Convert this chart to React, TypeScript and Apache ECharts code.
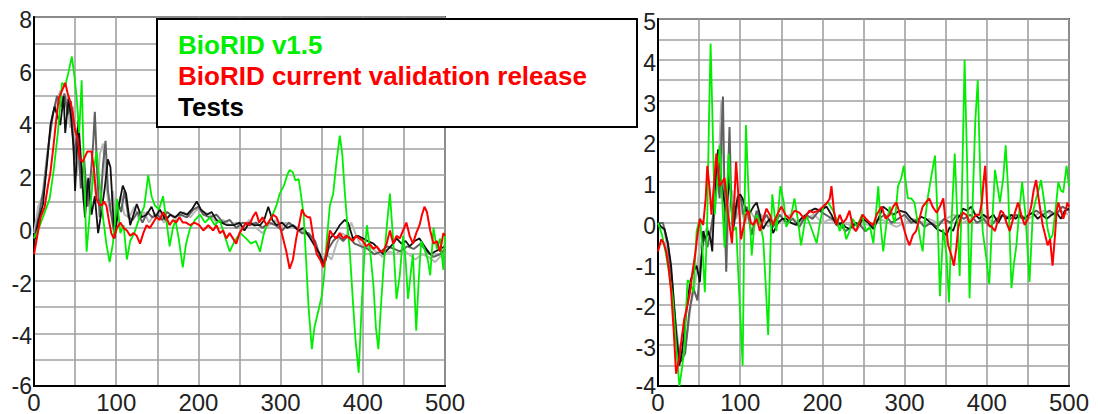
import React, { useEffect, useRef } from "react";
import * as echarts from "echarts";

const legendLabels = ["BioRID v1.5", "BioRID current validation release", "Tests"];
const leftYRange = [-6, 8];
const rightYRange = [-4, 5];
const xRange = [0, 500];

const leftGreen = [[0,-0.4],[6,0.0],[12,0.5],[19,1.1],[24,2.2],[29,3.6],[34,5.5],[38,5.4],[42,5.9],[46,6.5],[49,5.8],[52,4.9],[55,3.6],[58,5.6],[61,2.0],[64,-0.9],[68,0.6],[72,2.0],[76,2.9],[80,1.6],[84,0.4],[88,-0.6],[92,-1.3],[96,-0.6],[101,1.1],[105,-0.2],[109,0.1],[113,-1.2],[117,-0.5],[122,-0.2],[129,0.45],[134,0.8],[139,2.0],[143,1.2],[147,0.85],[152,0.7],[157,1.2],[161,0.3],[165,-0.7],[169,0.0],[172,0.3],[176,-0.4],[181,-1.5],[185,-0.6],[190,0.0],[196,0.3],[202,0.5],[208,0.2],[214,0.4],[220,0.1],[226,0.3],[232,-0.3],[238,-0.9],[244,-0.5],[251,-0.2],[258,-0.4],[264,-0.6],[270,-0.5],[275,-0.9],[279,-0.3],[283,0.1],[289,0.4],[295,0.85],[299,1.3],[304,1.6],[308,2.0],[311,2.2],[315,2.1],[318,1.8],[322,1.85],[325,1.2],[328,0.5],[331,-1.2],[334,-3.0],[338,-4.6],[341,-3.8],[344,-3.4],[347,-3.0],[350,-2.6],[353,-1.8],[356,-0.5],[360,0.85],[364,1.3],[368,2.5],[372,3.5],[375,2.8],[378,1.4],[381,0.2],[384,-0.8],[388,-2.8],[391,-4.2],[395,-5.5],[399,-2.7],[402,-1.0],[405,0.1],[409,-0.9],[413,-2.2],[416,-3.8],[419,-4.6],[422,-3.0],[425,-1.6],[429,0.0],[433,1.3],[437,-0.5],[441,-2.7],[445,-1.8],[449,-0.3],[452,-1.2],[455,-2.7],[458,-1.8],[461,-1.0],[465,-3.9],[468,-2.0],[471,-0.5],[475,-0.8],[479,-1.2],[482,-1.8],[486,0.0],[490,-0.8],[494,-0.4],[498,-1.6],[500,-0.2]];

const leftRed = [[0,-1.0],[4,-0.3],[8,0.4],[13,0.8],[17,1.6],[20,2.1],[24,3.2],[27,4.1],[30,4.9],[34,5.2],[38,5.5],[41,5.1],[44,4.8],[47,4.4],[50,3.7],[53,3.4],[56,2.6],[59,2.5],[62,2.7],[65,2.9],[70,2.9],[73,2.2],[76,1.1],[79,0.9],[82,0.85],[85,1.0],[88,0.85],[91,0.3],[94,-0.2],[97,-0.4],[101,0.0],[105,0.2],[109,0.0],[113,-0.1],[117,-0.3],[121,-0.2],[125,-0.3],[129,-0.6],[133,-0.2],[137,0.1],[141,0.0],[145,0.2],[149,0.4],[153,0.3],[157,0.6],[161,0.4],[165,0.1],[169,0.3],[173,0.2],[177,0.4],[181,0.2],[185,0.2],[190,0.1],[195,0.2],[201,0.1],[206,-0.1],[212,0.1],[218,-0.1],[222,0.1],[226,-0.2],[230,-0.1],[234,-0.4],[238,-0.2],[242,-0.4],[246,-0.6],[250,-0.2],[254,0.0],[258,0.2],[262,0.1],[266,0.4],[270,0.6],[274,0.2],[278,0.4],[283,0.1],[287,0.3],[291,0.5],[295,0.4],[299,0.1],[303,-0.4],[307,-0.9],[311,-1.55],[315,-1.2],[319,-0.4],[323,0.2],[326,0.7],[329,0.5],[333,0.4],[336,0.4],[340,-0.4],[344,-1.0],[348,-1.2],[352,-1.5],[356,-0.9],[360,-0.1],[364,-0.3],[368,-0.4],[372,-0.2],[376,-0.4],[380,-0.3],[384,-0.4],[388,-0.5],[392,-0.3],[396,-0.4],[400,-0.5],[404,-0.7],[408,-0.6],[413,-0.8],[417,-0.7],[421,-0.9],[425,-0.9],[429,-0.6],[433,-0.1],[437,-0.6],[441,-0.3],[445,-0.4],[449,-0.1],[453,0.2],[457,-0.3],[461,-0.6],[465,-0.2],[469,0.1],[472,0.5],[475,0.8],[478,0.6],[482,-0.1],[486,-0.6],[490,-0.5],[494,-0.9],[498,-0.2],[500,-0.3]];

const leftTestA = [[0,-0.6],[5,0.2],[11,0.9],[16,2.5],[20,3.9],[25,4.6],[29,4.2],[32,3.9],[36,5.0],[38,3.6],[42,4.9],[45,4.2],[48,3.1],[50,1.4],[54,4.1],[58,2.1],[62,0.4],[66,1.9],[70,0.5],[74,1.2],[78,-0.2],[82,0.6],[86,1.5],[90,2.6],[93,2.3],[98,-0.4],[103,0.8],[108,1.6],[112,1.3],[117,0.1],[121,0.5],[125,0.9],[131,0.4],[137,0.5],[143,0.8],[148,0.4],[153,0.7],[160,0.3],[166,0.5],[172,0.4],[178,0.6],[186,0.5],[192,0.7],[198,1.0],[203,0.7],[210,0.5],[216,0.6],[222,0.3],[228,0.2],[235,0.1],[243,0.1],[250,0.2],[256,-0.1],[262,0.2],[268,0.1],[275,0.1],[280,0.3],[285,0.8],[290,0.3],[295,0.1],[302,0.2],[308,0.0],[315,0.1],[322,-0.1],[328,0.0],[334,-0.3],[340,-0.6],[344,-0.8],[348,-1.0],[352,-1.4],[355,-1.2],[360,-0.4],[366,-0.2],[372,0.1],[378,0.3],[382,0.2],[388,-0.4],[394,-0.3],[400,-0.4],[406,-0.5],[413,-0.6],[419,-0.8],[425,-1.0],[431,-0.8],[437,-0.6],[441,-0.4],[447,-0.6],[452,-0.5],[457,-0.7],[463,-0.5],[469,-0.4],[475,-0.7],[482,-1.0],[488,-0.9],[494,-0.8],[500,-0.7]];

const leftTestB = [[0,-0.4],[6,0.5],[12,1.5],[18,3.2],[23,4.3],[28,5.0],[33,4.6],[37,5.1],[41,4.3],[45,4.8],[49,2.6],[53,3.8],[57,1.5],[61,2.6],[65,0.8],[69,2.0],[72,3.2],[74,4.4],[77,2.0],[80,0.4],[84,2.4],[87,3.3],[90,1.4],[94,0.5],[98,-0.3],[102,1.0],[106,0.6],[110,1.4],[115,0.4],[120,0.3],[126,0.6],[132,0.2],[138,0.6],[144,0.4],[150,0.5],[156,0.3],[162,0.6],[170,0.4],[178,0.5],[186,0.4],[194,0.7],[200,0.8],[206,0.5],[214,0.4],[222,0.5],[230,0.2],[238,0.3],[246,0.0],[254,0.2],[262,0.1],[270,0.2],[278,0.0],[286,0.2],[294,0.1],[302,-0.1],[310,0.2],[318,0.0],[326,-0.2],[334,-0.2],[342,-0.5],[348,-1.1],[354,-1.3],[358,-0.8],[364,-0.5],[370,-0.3],[376,-0.5],[382,-0.3],[390,-0.6],[398,-0.7],[406,-0.8],[414,-1.0],[422,-0.9],[430,-0.7],[438,-0.8],[446,-0.9],[454,-0.7],[462,-0.8],[470,-0.6],[478,-0.9],[486,-1.1],[494,-1.0],[500,-0.8]];

const leftTestC = [[0,-0.2],[5,0.8],[10,1.2],[16,2.8],[22,4.2],[27,4.8],[32,5.2],[36,4.5],[40,5.0],[44,3.8],[48,4.6],[52,2.0],[56,3.1],[60,1.0],[64,1.8],[68,0.6],[72,2.2],[76,1.0],[80,2.8],[84,3.2],[88,1.6],[92,0.6],[96,1.4],[100,0.2],[105,1.2],[110,0.5],[116,0.4],[122,0.8],[128,0.3],[134,0.6],[140,0.2],[146,0.5],[152,0.6],[158,0.2],[166,0.5],[174,0.3],[182,0.6],[190,0.4],[198,0.7],[206,0.6],[214,0.5],[222,0.2],[230,0.3],[238,0.1],[246,0.2],[254,0.0],[262,0.3],[270,0.0],[278,-0.2],[286,0.1],[294,0.3],[300,0.0],[306,0.2],[314,0.1],[322,0.0],[330,-0.2],[338,-0.4],[344,-0.9],[350,-1.2],[356,-1.0],[362,-1.2],[368,-0.6],[374,-0.2],[380,-0.3],[386,0.2],[392,-0.3],[400,-0.8],[408,-0.7],[416,-0.9],[424,-1.1],[432,-0.9],[440,-1.0],[448,-0.8],[456,-1.0],[464,-1.2],[472,-1.0],[480,-1.1],[488,-1.3],[494,-1.1],[500,-1.0]];

const rightGreen = [[0,0.0],[5,-0.3],[10,-0.8],[14,-1.3],[18,-1.85],[22,-3.0],[26,-4.0],[29,-3.6],[32,-3.1],[34,-2.2],[36,-1.4],[40,-1.5],[43,-1.7],[47,-0.2],[51,0.1],[54,-0.6],[57,-1.7],[60,0.2],[62,2.5],[64,4.4],[66,2.8],[69,0.2],[72,1.0],[75,1.9],[78,0.6],[81,-0.6],[86,1.7],[91,-0.2],[95,-0.1],[99,-1.8],[103,-3.5],[105,0.0],[107,2.4],[110,0.8],[114,-0.8],[117,-0.1],[120,0.2],[124,0.0],[128,-0.4],[131,-1.5],[134,-2.75],[137,-0.5],[139,0.7],[144,-0.2],[149,0.9],[153,0.5],[156,-0.1],[161,0.1],[166,0.6],[170,0.1],[174,-0.55],[180,0.2],[186,-0.1],[193,-0.5],[197,0.0],[201,0.4],[207,0.5],[213,0.3],[217,0.1],[221,-0.2],[225,0.0],[229,-0.4],[233,-0.2],[237,0.1],[242,-0.1],[248,0.2],[253,-0.2],[258,-0.1],[262,-0.5],[265,0.2],[268,0.9],[271,-0.1],[274,-0.7],[278,0.0],[282,0.4],[285,0.2],[288,0.0],[292,0.9],[296,1.1],[299,1.4],[302,0.9],[304,0.6],[308,0.6],[312,0.5],[316,0.0],[319,-0.4],[322,-0.7],[325,0.1],[328,0.6],[333,1.2],[337,1.65],[340,0.2],[343,-1.8],[347,-0.15],[351,-0.8],[354,-1.95],[357,0.0],[361,1.7],[364,0.2],[367,-1.3],[370,1.0],[373,4.0],[376,1.5],[379,-1.85],[382,0.0],[386,2.5],[389,3.5],[392,1.2],[395,-0.2],[399,-0.8],[403,-1.5],[406,-0.2],[410,1.3],[413,0.9],[416,0.5],[420,1.1],[423,1.9],[426,0.8],[430,-1.6],[433,-1.0],[436,-0.55],[440,0.4],[443,1.0],[447,0.2],[452,-1.45],[456,0.25],[460,0.6],[463,0.8],[466,1.05],[470,0.5],[474,-0.15],[477,-0.4],[480,-0.3],[484,0.4],[487,1.0],[490,0.8],[493,0.75],[497,1.4],[500,0.9]];

const rightRed = [[0,-0.7],[4,-0.4],[7,-0.5],[10,-0.7],[13,-1.1],[16,-1.7],[19,-2.6],[22,-3.7],[24,-3.5],[26,-3.3],[29,-2.8],[32,-2.35],[36,-2.0],[39,-1.7],[42,-1.2],[45,-0.8],[48,-0.3],[51,0.1],[55,-0.05],[58,0.6],[60,1.4],[63,0.8],[65,0.2],[68,0.9],[71,1.7],[73,1.3],[75,0.9],[78,1.0],[81,1.1],[83,0.7],[85,0.25],[88,-0.2],[90,-0.5],[93,0.6],[95,1.5],[97,0.9],[99,0.25],[101,-0.4],[104,-0.1],[107,0.2],[110,0.3],[113,0.0],[116,-0.05],[120,0.1],[124,-0.2],[128,0.1],[132,0.35],[136,0.2],[140,-0.05],[145,0.2],[150,0.4],[155,0.2],[160,0.1],[166,0.3],[172,0.25],[178,0.1],[184,0.3],[189,0.25],[195,0.3],[201,0.4],[206,0.5],[209,0.6],[211,0.9],[214,0.3],[217,-0.05],[221,0.2],[225,0.0],[229,0.1],[233,0.3],[237,-0.1],[241,-0.2],[245,0.0],[249,0.2],[253,0.1],[258,0.0],[262,-0.05],[266,0.2],[269,0.3],[272,0.4],[277,0.1],[282,0.2],[286,0.4],[290,0.5],[293,0.3],[296,0.1],[300,-0.2],[303,-0.4],[306,-0.55],[310,-0.3],[314,-0.2],[318,0.1],[322,0.4],[326,0.5],[330,0.6],[334,0.4],[339,0.25],[343,0.4],[347,0.6],[350,0.0],[353,-0.55],[357,-0.8],[360,-1.05],[363,-0.6],[365,-0.15],[368,0.1],[371,0.25],[375,0.2],[379,0.0],[383,0.1],[387,0.2],[391,0.2],[394,0.5],[396,1.0],[398,1.4],[400,0.6],[402,-0.05],[406,-0.1],[410,-0.2],[414,0.1],[417,0.3],[420,0.25],[424,0.0],[428,-0.2],[432,0.1],[435,0.3],[438,0.5],[442,0.2],[446,-0.05],[450,0.1],[454,0.4],[457,0.8],[460,1.05],[463,0.6],[466,0.2],[468,-0.05],[471,-0.3],[474,-0.55],[477,-0.4],[480,-1.05],[483,-0.3],[485,0.3],[487,0.5],[490,0.3],[493,0.1],[496,0.3],[498,0.5],[500,0.4]];

const rightTestA = [[0,0.0],[4,-0.1],[8,-0.15],[12,-0.5],[16,-1.05],[19,-1.9],[22,-2.7],[26,-3.5],[29,-3.2],[32,-2.65],[35,-2.1],[39,-1.45],[43,-1.2],[47,-1.05],[51,-1.45],[53,-0.8],[55,-0.2],[58,-0.4],[61,-0.2],[64,-0.4],[66,-0.7],[69,0.75],[71,1.3],[73,1.8],[75,1.6],[77,1.0],[80,0.6],[83,0.25],[85,0.7],[87,1.15],[89,0.5],[91,-0.2],[94,0.3],[97,0.65],[100,0.7],[103,0.6],[107,0.3],[112,0.25],[116,0.4],[120,0.5],[124,0.2],[128,-0.15],[132,0.0],[136,0.1],[140,-0.25],[146,0.0],[151,0.1],[156,0.1],[162,0.0],[168,-0.05],[174,0.1],[180,0.2],[186,0.3],[191,0.35],[198,0.3],[205,0.4],[211,0.2],[217,-0.05],[224,0.0],[228,-0.1],[233,-0.15],[240,0.0],[245,-0.05],[249,0.1],[256,0.0],[262,-0.15],[268,0.1],[274,0.4],[280,0.3],[286,0.2],[294,0.3],[302,0.25],[308,0.1],[314,0.0],[320,0.15],[326,0.1],[332,0.0],[339,-0.15],[345,-0.2],[351,-0.3],[355,-0.1],[359,-0.2],[364,0.1],[368,0.2],[371,0.35],[376,0.3],[381,0.4],[386,0.2],[391,0.1],[396,0.2],[402,0.1],[408,0.2],[414,0.0],[419,0.2],[424,0.1],[430,0.2],[435,0.1],[440,0.2],[446,0.1],[451,0.2],[456,0.25],[462,0.1],[467,0.2],[473,0.1],[479,0.2],[485,0.25],[490,0.1],[495,0.3],[500,0.35]];

const rightTestB = [[0,0.0],[6,0.0],[12,-0.5],[18,-1.6],[23,-2.9],[28,-3.4],[33,-3.2],[38,-2.2],[43,-1.6],[48,-1.9],[52,-1.0],[56,-0.3],[60,-0.6],[64,-0.2],[68,0.3],[72,1.2],[75,0.6],[77,2.0],[79,3.1],[81,0.5],[83,-1.2],[85,1.0],[87,2.35],[89,0.6],[92,-0.1],[96,0.4],[100,0.7],[104,0.2],[108,0.4],[114,-0.3],[120,0.3],[126,0.0],[132,0.2],[140,-0.1],[148,0.2],[156,0.0],[164,0.1],[172,-0.1],[180,0.2],[188,0.1],[196,0.3],[204,0.2],[212,0.1],[220,0.0],[228,-0.2],[236,-0.1],[244,0.0],[252,-0.2],[260,-0.1],[268,0.1],[276,0.2],[284,0.0],[292,0.1],[300,0.2],[308,0.0],[316,0.1],[324,-0.1],[332,0.0],[340,-0.1],[348,0.1],[356,0.0],[364,0.2],[372,0.1],[380,0.2],[388,0.0],[396,0.1],[404,-0.1],[412,0.1],[420,0.2],[428,0.1],[436,0.2],[444,0.1],[452,0.2],[460,0.3],[468,0.2],[476,0.3],[484,0.2],[492,0.4],[500,0.3]];

const rightTestC = [[0,0.0],[8,-0.2],[14,-1.0],[20,-2.2],[25,-3.0],[30,-3.3],[35,-2.8],[40,-2.0],[45,-1.5],[50,-0.7],[55,-0.3],[60,-0.1],[65,-0.5],[70,0.8],[74,1.4],[77,3.0],[80,1.2],[83,-1.1],[86,0.2],[90,0.8],[95,0.1],[100,0.4],[106,0.0],[112,0.3],[118,0.1],[126,0.2],[134,-0.1],[142,0.1],[150,0.0],[160,0.2],[170,0.0],[180,0.1],[190,0.2],[200,0.0],[210,0.1],[220,-0.1],[230,0.0],[240,-0.2],[250,0.0],[260,-0.1],[270,0.1],[280,0.0],[290,-0.1],[300,0.0],[310,0.1],[320,0.0],[330,0.1],[340,0.0],[350,0.1],[360,0.2],[370,0.0],[380,0.1],[390,0.2],[400,0.1],[410,0.0],[420,0.2],[430,0.1],[440,0.2],[450,0.1],[460,0.2],[470,0.3],[480,0.2],[490,0.3],[500,0.2]];

const FONT = '"Liberation Sans", Arial, Helvetica, sans-serif';
const GRID_COLOR = "#a0a0a0";
const GREEN = "#00ee00";
const RED = "#ff0000";
const LABEL_COLOR = "#222";

function xAxis(gridIndex: number) {
  return {
    type: "value", gridIndex, min: xRange[0], max: xRange[1], interval: 50,
    axisLine: { show: true, onZero: false, lineStyle: { color: "#000", width: 2 } },
    axisTick: { show: false },
    splitLine: { show: true, lineStyle: { color: GRID_COLOR, width: 1.6 } },
    axisLabel: {
      margin: 8, fontSize: 24, lineHeight: 16, fontFamily: FONT, color: LABEL_COLOR,
      formatter: (v: number) => (v % 100 === 0 ? String(v) : ""),
    },
  };
}

function yAxis(gridIndex: number, range: number[], interval: number) {
  return {
    type: "value", gridIndex, min: range[0], max: range[1], interval,
    axisLine: { show: true, onZero: false, lineStyle: { color: "#000", width: 2 } },
    axisTick: { show: false },
    splitLine: { show: true, lineStyle: { color: GRID_COLOR, width: 1.6 } },
    axisLabel: {
      margin: 2, fontSize: 23, fontFamily: FONT, color: LABEL_COLOR,
      formatter: (v: number) => {
        const step = gridIndex === 0 ? 2 : 1;
        if (Math.abs(v % step) > 1e-9) return "";
        return v === range[0] ? `{m|${v}}` : `{n|${v}}`;
      },
      rich: {
        n: { fontSize: 23, fontFamily: FONT, color: LABEL_COLOR, padding: [6, 0, 0, 0] },
        m: { fontSize: 23, fontFamily: FONT, color: LABEL_COLOR, lineHeight: 16 },
      },
    },
  };
}

function line(data: number[][], color: string, idx: number, width = 2, z = 2) {
  return {
    type: "line", data, xAxisIndex: idx, yAxisIndex: idx, showSymbol: false,
    symbol: "none", lineStyle: { color, width }, z, silent: true,
  };
}

export default function App() {
  const ref = useRef<HTMLDivElement>(null);
  useEffect(() => {
    if (!ref.current) return;
    const chart = echarts.init(ref.current, null, { renderer: "svg" });
    const legendColors = [GREEN, RED, "#000"];
    chart.setOption({
      animation: false,
      backgroundColor: "#fff",
      grid: [
        { left: 34, top: 17, width: 411, height: 371, show: true, borderColor: "#444", borderWidth: 2, backgroundColor: "#fff" },
        { left: 658, top: 19, width: 411, height: 369, show: true, borderColor: "#444", borderWidth: 2, backgroundColor: "#fff" },
      ],
      xAxis: [xAxis(0), xAxis(1)],
      yAxis: [yAxis(0, leftYRange, 1), yAxis(1, rightYRange, 0.5)],
      series: [
        line(leftTestC, "#b8b8b8", 0, 2),
        line(leftTestB, "#606060", 0, 2),
        line(leftTestA, "#111", 0, 1.8),
        line(leftGreen, GREEN, 0, 1.8, 3),
        line(leftRed, RED, 0, 2, 4),
        line(rightTestC, "#b8b8b8", 1, 2),
        line(rightTestB, "#606060", 1, 2),
        line(rightTestA, "#111", 1, 1.8),
        line(rightGreen, GREEN, 1, 1.8, 3),
        line(rightRed, RED, 1, 2, 4),
      ],
      graphic: [
        {
          type: "rect", z: 100, shape: { x: 157, y: 19, width: 480, height: 108 },
          style: { fill: "#fff", stroke: "#000", lineWidth: 2 },
        },
        ...legendLabels.map((t, i) => ({
          type: "text", z: 101, x: 178, y: 45 + i * 31,
          style: { text: t, fill: legendColors[i], font: `bold 26px ${FONT}`, verticalAlign: "middle" },
        })),
      ],
    });
    return () => chart.dispose();
  }, []);
  return (
    <div ref={ref} style={{ position: "fixed", left: 0, top: 0, width: 1098, height: 414, background: "#fff" }} />
  );
}
